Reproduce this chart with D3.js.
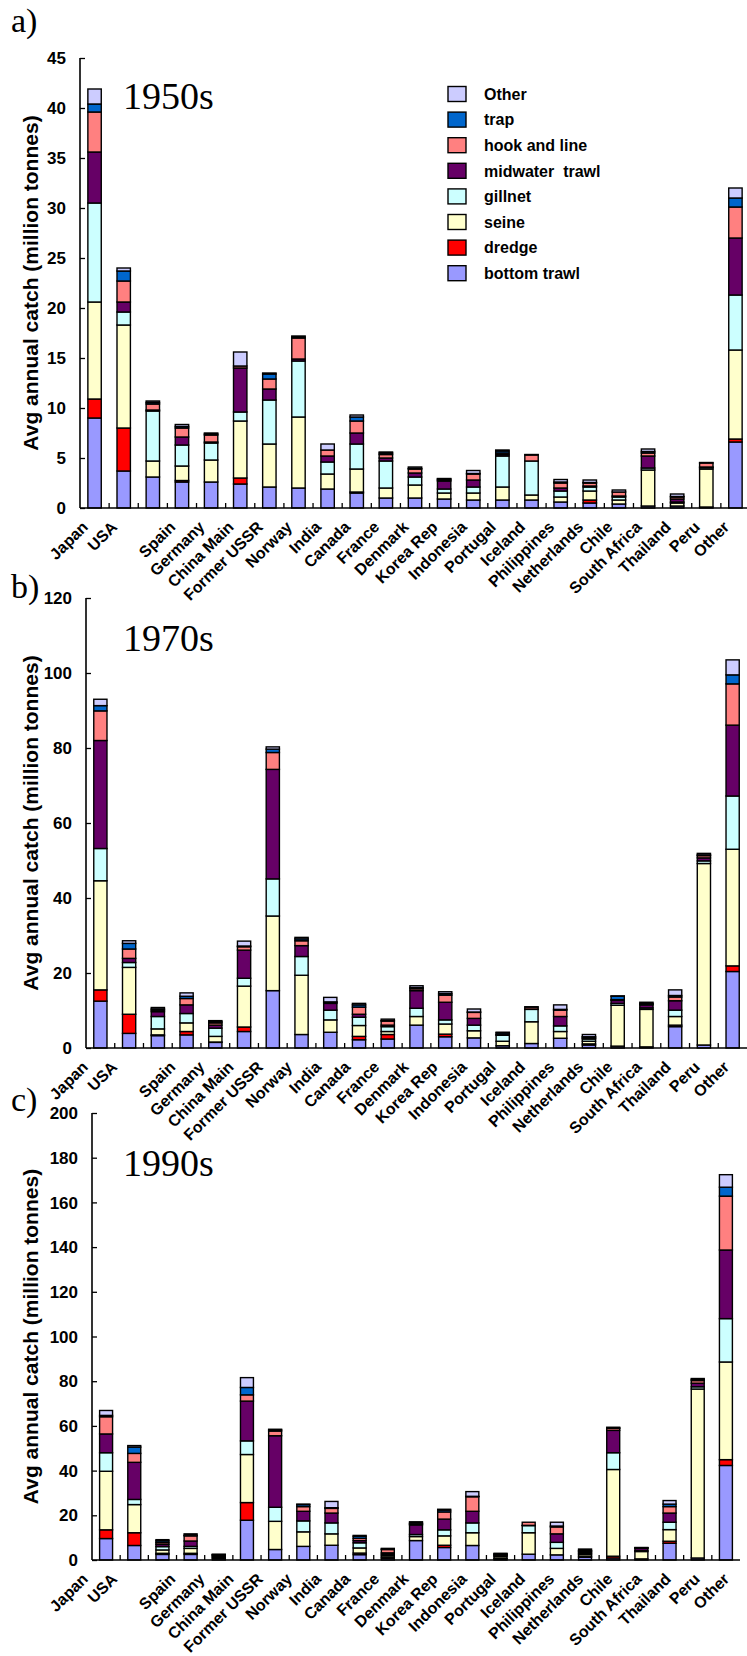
<!DOCTYPE html>
<html>
<head>
<meta charset="utf-8">
<script src="https://cdn.jsdelivr.net/npm/d3@7"></script>
<style>
    body { margin: 0; background: #fff; }
    svg text { font-family: "Liberation Sans", Arial, sans-serif; }
</style>
</head>
<body>
<svg id="chart" width="747" height="1656"></svg>
<script>
const countries = ["Japan", "USA", "", "Spain", "Germany", "China Main", "Former USSR", "Norway", "India", "Canada",
    "France", "Denmark", "Korea Rep", "Indonesia", "Portugal", "Iceland", "Philippines", "Netherlands", "Chile",
    "South Africa", "Thailand", "Peru", "Other"]

// stacking order, bottom to top
const gears = ["bottom trawl", "dredge", "seine", "gillnet", "midwater  trawl", "hook and line", "trap", "Other"]
const gearColors = ["#9999FF", "#FF0000", "#FFFFCC", "#CCFFFF", "#660066", "#FF8080", "#0066CC", "#CCCCFF"]

// million tonnes, one row per country, columns in gears order
const catch1950s = [
    [9.0, 1.9, 9.7, 9.9, 5.1, 4.0, 0.8, 1.5],
    [3.7, 4.3, 10.3, 1.3, 1.0, 2.1, 1.0, 0.3],
    [3.1, 0, 1.6, 5.0, 0.1, 0.6, 0.15, 0.15],
    [2.6, 0.15, 1.45, 2.1, 0.8, 0.9, 0.15, 0.2],
    [2.6, 0, 2.2, 1.7, 0.1, 0.7, 0.1, 0.1],
    [2.4, 0.6, 5.7, 0.9, 4.4, 0.2, 0, 1.4],
    [2.1, 0, 4.3, 4.4, 1.1, 1.0, 0.5, 0.1],
    [2.0, 0, 7.1, 5.6, 0.2, 2.1, 0.1, 0.1],
    [1.9, 0, 1.5, 1.2, 0.6, 0.6, 0, 0.6],
    [1.5, 0.1, 2.3, 2.5, 1.1, 1.2, 0.4, 0.2],
    [1.0, 0, 1.0, 2.7, 0.3, 0.35, 0.15, 0.1],
    [1.0, 0, 1.3, 0.8, 0.4, 0.4, 0.05, 0.15],
    [0.9, 0, 0.6, 0.4, 0.8, 0.1, 0.1, 0.05],
    [0.8, 0, 0.7, 0.6, 0.7, 0.6, 0.05, 0.3],
    [0.8, 0, 1.3, 3.1, 0.15, 0.15, 0.2, 0.1],
    [0.8, 0, 0.5, 3.4, 0, 0.6, 0, 0.05],
    [0.6, 0, 0.5, 0.6, 0.3, 0.5, 0.1, 0.25],
    [0.5, 0.3, 0.9, 0.4, 0.1, 0.3, 0.05, 0.25],
    [0.4, 0, 0.4, 0.3, 0.1, 0.4, 0, 0.2],
    [0.2, 0, 3.6, 0.2, 1.2, 0.3, 0.15, 0.25],
    [0.2, 0, 0.3, 0.1, 0.3, 0.2, 0.05, 0.25],
    [0.1, 0, 3.8, 0.15, 0.05, 0.4, 0, 0.05],
    [6.6, 0.3, 8.9, 5.5, 5.7, 3.1, 0.9, 1.0]
]

const catch1970s = [
    [12.5, 3.0, 29.1, 8.6, 28.8, 7.9, 1.4, 1.7],
    [3.9, 5.1, 12.5, 1.3, 1.1, 2.5, 1.5, 0.7],
    [3.3, 0.2, 1.6, 3.3, 1.3, 0.4, 0.3, 0.4],
    [3.5, 0.9, 2.3, 2.5, 2.3, 1.7, 0.6, 0.9],
    [1.5, 0.1, 1.5, 2.2, 0.8, 0.6, 0.3, 0.3],
    [4.4, 1.2, 10.9, 2.1, 7.5, 0.9, 0.2, 1.3],
    [15.3, 0, 19.9, 9.9, 29.2, 4.5, 0.9, 0.6],
    [3.6, 0, 15.8, 5.0, 2.9, 1.3, 0.5, 0.4],
    [4.2, 0, 3.3, 2.6, 1.8, 0.3, 0.1, 1.2],
    [2.2, 0.9, 2.9, 2.2, 0.8, 1.9, 0.6, 0.4],
    [2.4, 1.2, 0.8, 1.3, 0.4, 1.1, 0.1, 0.4],
    [6.1, 0, 2.3, 2.2, 4.7, 0.5, 0.3, 0.5],
    [3.0, 0.7, 2.7, 1.1, 4.7, 1.9, 0.4, 0.5],
    [2.7, 0, 1.9, 1.5, 1.8, 1.6, 0.1, 0.8],
    [0.6, 0, 1.2, 1.6, 0.1, 0.2, 0.4, 0.1],
    [1.2, 0, 5.8, 3.3, 0.1, 0.5, 0, 0.1],
    [2.6, 0, 1.8, 1.5, 2.5, 1.7, 0.2, 1.2],
    [0.8, 0.3, 0.7, 0.6, 0.2, 0.3, 0.1, 0.6],
    [0.5, 0, 10.9, 0.5, 0.8, 0.2, 0.9, 0.1],
    [0.3, 0, 10.0, 0.4, 0.8, 0.2, 0.2, 0.3],
    [5.7, 0.4, 2.3, 1.7, 2.5, 1.0, 0.4, 1.5],
    [0.8, 0, 48.4, 0.7, 0.8, 0.6, 0.2, 0.4],
    [20.4, 1.5, 31.1, 14.2, 18.9, 11.0, 2.4, 4.0]
]

const catch1990s = [
    [9.6, 3.9, 26.2, 8.3, 8.4, 7.7, 0.6, 2.2],
    [6.5, 5.7, 12.6, 2.3, 16.6, 4.0, 2.8, 0.7],
    [2.5, 0.5, 1.5, 1.5, 1.0, 0.8, 0.8, 0.5],
    [2.5, 0.5, 2.2, 0.9, 2.4, 2.3, 0.3, 0.6],
    [0.7, 0, 0.5, 0.4, 0.5, 0.2, 0.1, 0.2],
    [17.8, 7.9, 21.5, 6.1, 17.8, 2.8, 3.3, 4.4],
    [4.7, 0, 12.6, 6.3, 32.0, 2.1, 0.5, 0.3],
    [6.1, 0, 6.5, 4.9, 4.3, 2.1, 0.9, 0.2],
    [6.6, 0, 5.1, 4.9, 4.4, 2.1, 0.3, 2.8],
    [2.4, 0.7, 2.3, 2.3, 1.0, 1.0, 0.9, 0.4],
    [0.8, 0.5, 0.7, 0.6, 0.6, 1.5, 0.2, 0.3],
    [8.7, 0, 1.8, 0.9, 4.3, 0.4, 0.4, 0.6],
    [5.6, 1.0, 4.2, 2.7, 4.8, 3.2, 0.8, 0.4],
    [6.5, 0, 5.7, 4.4, 5.2, 6.5, 0.2, 2.1],
    [0.5, 0.2, 0.8, 0.5, 0.2, 0.3, 0.3, 0.2],
    [2.6, 0, 9.6, 3.2, 0.1, 1.4, 0, 0],
    [2.3, 0, 2.9, 2.7, 3.8, 3.1, 0.4, 1.7],
    [1.2, 0.5, 0.8, 0.5, 0.6, 0.4, 0.3, 0.6],
    [0.9, 0.8, 38.8, 7.5, 10.0, 0.9, 0.2, 0.3],
    [0.5, 0, 3.3, 0.4, 1.0, 0.2, 0.1, 0.1],
    [7.5, 0.9, 5.2, 3.3, 4.1, 2.9, 1.1, 1.6],
    [0.9, 0, 75.6, 1.0, 1.6, 1.2, 0.5, 0.4],
    [42.3, 2.6, 43.7, 19.4, 30.7, 24.1, 4.0, 5.6]
]

const yTicks1950s = d3.range(0, 46, 5)
const yTicks1970s = d3.range(0, 121, 20)
const yTicks1990s = d3.range(0, 201, 20)

// layout of the three stacked panels
const panels = [
    {letter: "a)", decade: "1950s", data: catch1950s, ticks: yTicks1950s, max: 45,
        left: 80, right: 750, top: 58, bottom: 508, letterY: 32, decadeY: 109, legend: true},
    {letter: "b)", decade: "1970s", data: catch1970s, ticks: yTicks1970s, max: 120,
        left: 86, right: 747, top: 598, bottom: 1048, letterY: 598, decadeY: 651, legend: false},
    {letter: "c)", decade: "1990s", data: catch1990s, ticks: yTicks1990s, max: 200,
        left: 92, right: 740, top: 1113, bottom: 1560, letterY: 1111, decadeY: 1176, legend: false}
]

const svg = d3.select("#chart")

function drawPanel(p) {
    const g = svg.append("g")

    const x = d3.scaleBand()
        .domain(d3.range(countries.length))
        .range([p.left, p.right])
        .paddingInner(0.54)
        .paddingOuter(0.27)
    const step = x.step()

    const y = d3.scaleLinear()
        .domain([0, p.max])
        .range([p.bottom, p.top])

    const series = d3.stack().keys(d3.range(gears.length))(p.data)

    // bars
    const layer = g.selectAll("g.layer")
        .data(series)
        .join("g")
        .attr("class", "layer")
        .attr("fill", (d, i) => gearColors[i])

    layer.selectAll("rect")
        .data(d => d.map((v, i) => ({v: v, i: i})))
        .join("rect")
        .filter(d => d.v[1] - d.v[0] > 0)
        .attr("x", d => x(d.i))
        .attr("width", x.bandwidth())
        .attr("y", d => y(d.v[1]))
        .attr("height", d => y(d.v[0]) - y(d.v[1]))
        .attr("stroke", "#000")
        .attr("stroke-width", 1.4)

    // y axis, ticks inside
    const yAxis = d3.axisRight(y)
        .tickValues(p.ticks)
        .tickSize(5)
        .tickFormat("")
    g.append("g")
        .attr("transform", "translate(" + p.left + ",0)")
        .call(yAxis)
        .call(a => a.select(".domain").attr("stroke-width", 1.6).attr("d", "M0," + p.top + "V" + p.bottom))
        .call(a => a.selectAll(".tick line").attr("stroke-width", 1.3))

    g.selectAll("text.ytick")
        .data(p.ticks)
        .join("text")
        .attr("class", "ytick")
        .attr("x", p.left - 14)
        .attr("y", d => y(d))
        .attr("dy", "0.36em")
        .attr("text-anchor", "end")
        .attr("font-size", 17)
        .attr("font-weight", "bold")
        .text(d => d)

    // x axis with tick marks between categories
    g.append("line")
        .attr("x1", p.left).attr("x2", p.right)
        .attr("y1", p.bottom).attr("y2", p.bottom)
        .attr("stroke", "#000")
        .attr("stroke-width", 1.6)

    g.selectAll("line.xtick")
        .data(d3.range(1, countries.length))
        .join("line")
        .attr("class", "xtick")
        .attr("x1", d => p.left + d * step)
        .attr("x2", d => p.left + d * step)
        .attr("y1", p.bottom)
        .attr("y2", p.bottom - 5)
        .attr("stroke", "#000")
        .attr("stroke-width", 1.3)

    g.selectAll("text.xlab")
        .data(countries)
        .join("text")
        .attr("class", "xlab")
        .attr("text-anchor", "end")
        .attr("font-size", 16)
        .attr("font-weight", "bold")
        .attr("transform", (d, i) => "translate(" + (89 + i * 29.14) + "," + (p.bottom + 20) + ") rotate(-45)")
        .text(d => d)

    // y title
    g.append("text")
        .attr("transform", "translate(38," + ((p.top + p.bottom) / 2) + ") rotate(-90)")
        .attr("text-anchor", "middle")
        .attr("font-size", 21)
        .attr("font-weight", "bold")
        .text("Avg annual catch (million tonnes)")

    g.append("text")
        .attr("x", 11)
        .attr("y", p.letterY)
        .style("font-family", "'Liberation Serif', 'Times New Roman', serif")
        .attr("font-size", 34)
        .text(p.letter)

    g.append("text")
        .attr("x", 123)
        .attr("y", p.decadeY)
        .style("font-family", "'Liberation Serif', 'Times New Roman', serif")
        .attr("font-size", 38)
        .text(p.decade)

    if (p.legend) drawLegend(g)
}

function drawLegend(g) {
    const order = d3.range(gears.length).reverse()
    const row = g.selectAll("g.leg")
        .data(order)
        .join("g")
        .attr("class", "leg")
        .attr("transform", (d, i) => "translate(448," + (94 + i * 25.6) + ")")

    row.append("rect")
        .attr("x", 0)
        .attr("y", -7.5)
        .attr("width", 18)
        .attr("height", 15)
        .attr("fill", d => gearColors[d])
        .attr("stroke", "#000")
        .attr("stroke-width", 1.4)

    row.append("text")
        .attr("x", 36)
        .attr("dy", "0.36em")
        .attr("font-size", 16)
        .attr("font-weight", "bold")
        .style("white-space", "pre")
        .text(d => gears[d])
}

panels.forEach(drawPanel)
</script>
</body>
</html>
